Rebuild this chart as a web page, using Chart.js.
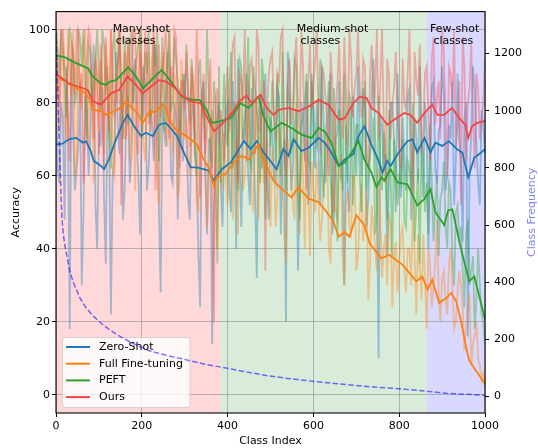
<!DOCTYPE html>
<html>
<head>
<meta charset="utf-8">
<script src="https://cdn.jsdelivr.net/npm/chart.js@4.4.1/dist/chart.umd.min.js"></script>
<style>
  body { margin: 0; background: #fff; }
</style>
</head>
<body>
<canvas id="accChart" width="538" height="448"></canvas>
<script>
// per-class accuracy: "A" arrays at classes 0,8,16..., "B" arrays at 4,12,20...
const RAW_STEP = 8;
const rawZeroShotA = [84,58,76,90,18,72,62,86,50,78,70,96,40,
  68,54,80,22,64,74,88,56,82,66,92,60,78,
  86,62,74,96,50,80,68,90,58,76,84,64,
  72,48,80,62,24,86,44,70,52,76,58,
  66,80,50,74,92,46,70,60,84,54,76,62,88,48,
  72,58,82,66,20,90,62,78,56,74,86,60,70,
  80,52,74,64,88,48,72,60,30,56,76,68,
  90,60,78,54,82,70,10,74,66,58,80,50,68,
  76,56,84,62,70,90,54,72,64,86,58,74,
  82,60,70,52,88,64,76,16,72,84,58,78,66];
const rawZeroShotB = [62,80,48,74,92,56,68,30,82,60,88,52,72,
  84,36,70,60,94,66,48,78,58,86,70,44,90,
  56,78,64,84,28,72,94,60,80,48,70,88,
  54,76,66,38,82,60,70,14,64,80,46,
  78,56,86,40,64,72,88,52,70,32,82,66,58,76,
  60,84,44,70,94,56,74,34,80,64,52,88,62,
  66,90,58,78,44,70,86,62,74,50,82,60,
  72,84,46,68,92,56,76,62,38,80,70,88,54,
  64,82,48,76,58,68,80,40,84,62,72,90,
  56,74,86,64,70,42,80,60,90,68,52,74];
const rawFullFTA = [100,80,94,70,88,100,64,86,96,72,90,58,84,
  92,66,84,100,60,80,90,70,96,74,56,88,82,
  64,94,76,86,52,90,72,100,66,80,58,84,
  76,60,88,54,70,82,46,66,74,40,62,
  72,52,80,64,44,76,60,86,56,70,48,78,62,54,
  68,46,74,58,36,66,52,80,44,60,70,38,56,
  64,42,58,72,36,54,48,66,30,56,44,60,
  38,58,46,26,52,40,62,32,44,50,24,42,36,
  46,28,40,54,22,34,44,18,36,30,48,20,
  34,22,40,18,28,30,12,24,8,16,10,4,2];
const rawFullFTB = [86,96,74,100,82,60,92,78,100,68,84,94,72,
  80,96,70,62,88,100,74,84,64,90,78,100,68,
  86,72,98,60,80,94,68,78,88,54,92,70,
  66,84,72,50,80,64,58,78,52,68,56,
  60,76,48,70,84,56,66,74,50,82,64,58,70,46,
  62,54,66,44,70,60,48,58,72,40,56,64,50,
  54,48,66,40,58,50,62,38,52,46,60,34,
  50,42,56,36,46,34,48,40,30,46,38,28,44,
  34,40,30,38,44,26,32,40,24,36,28,32,
  26,36,30,20,34,24,18,28,14,20,8,6];
const rawPEFTA = [100,88,96,76,100,92,82,98,100,70,94,86,100,
  78,96,90,62,100,92,84,98,74,100,88,96,70,
  94,100,78,90,64,98,86,100,80,92,68,88,
  96,74,84,60,92,80,100,66,86,36,58,
  88,68,94,80,56,90,76,98,62,84,72,92,48,80,
  86,64,78,94,56,82,70,90,48,76,88,62,80,
  68,92,54,76,60,84,42,72,88,58,80,66,
  74,50,86,62,70,44,82,56,66,78,38,64,60,
  70,46,62,80,52,36,66,58,74,42,60,54,
  64,40,56,30,52,46,24,48,34,18,40,22,14];
const rawPEFTB = [94,100,86,92,98,80,100,90,84,96,78,92,88,
  100,82,74,94,86,100,70,90,96,80,92,100,84,
  88,76,96,100,84,72,92,78,98,86,74,80,
  82,92,66,88,76,70,84,62,80,90,74,
  72,84,62,76,92,70,82,64,90,78,58,86,74,68,
  76,88,60,72,84,66,92,58,74,80,64,86,70,
  78,62,72,86,48,66,78,56,70,82,52,74,
  60,78,56,66,76,50,62,72,48,60,70,52,58,
  48,64,56,42,62,70,50,44,58,52,38,56,
  46,58,38,50,42,34,44,30,38,26,30,20];
const rawOursA = [96,72,100,88,64,94,100,80,58,92,98,70,88,
  96,62,84,100,76,90,52,94,98,78,100,66,90,
  100,74,92,56,96,88,100,70,84,98,62,86,
  94,68,80,100,54,88,72,92,20,84,78,
  64,90,82,98,58,86,100,74,92,66,96,80,34,88,
  94,70,86,100,60,92,78,98,72,90,56,96,84,
  100,66,88,74,94,50,86,78,98,68,92,84,
  100,76,90,62,96,84,70,100,58,88,80,94,66,
  92,78,100,54,86,96,72,90,64,98,82,70,
  94,60,88,100,74,52,90,80,96,62,84,76,92];
const rawOursB = [84,100,90,76,96,82,100,88,74,100,84,92,66,
  86,98,72,90,84,100,80,70,92,100,86,94,76,
  90,82,100,88,76,94,80,90,100,72,86,78,
  84,90,70,86,78,66,82,60,80,68,74,
  82,72,96,70,88,80,64,90,84,100,72,86,78,92,
  76,88,98,68,84,74,90,80,100,66,86,78,92,
  74,90,82,60,86,78,96,70,84,100,76,88,
  84,92,66,88,78,100,86,74,92,70,84,78,62,
  80,88,70,94,82,66,88,78,92,74,86,100,
  76,90,80,68,86,98,64,84,76,88,70,80];

// smoothed curves: class index -> accuracy
const zsX = [0,15,30,47,63,70,81,88,105,112,123,140,156,167,182,198,209,226,240,256,267,282,298,314,328,344,356,368,386,407,419,438,454,468,484,503,514,530,542,554,572,589,612,626,642,659,673,693,705,719,735,752,761,772,780,796,819,831,842,859,873,884,900,916,935,947,961,975,986,1000];
const zsY = [68.6,68.8,70,70.4,69.1,69.5,66.8,64.1,62.7,61.8,64.5,70,74.5,76.7,73.6,70.9,71.8,70.9,74,74.5,73.1,70.9,66.4,62.3,62.3,61.8,61.4,58.7,61.8,63.6,65.9,69.5,67.3,69.5,66.4,63.6,61.8,67.3,65.5,70,66.8,67.7,70.4,69.1,66.4,62.7,64.5,65.9,70.9,73.6,68.6,64.1,60.9,64.1,62.7,65.9,69.5,70,66.4,70.4,66.4,69.1,68.2,69.5,67.3,66.4,59.6,65,65.9,67.3];
const ftX = [0,10,23,47,63,77,86,105,116,135,151,163,174,190,202,216,233,249,256,263,279,298,314,328,344,356,368,375,395,414,433,449,472,484,496,507,526,549,565,589,612,631,647,659,673,684,700,719,731,758,777,808,840,854,866,877,893,910,921,933,944,956,963,979,1000];
const ftY = [88.2,86.5,85.8,84,83.1,81.3,78.1,77.7,76.7,77.7,78.6,80.4,79,77.2,74.5,77.2,77.7,79.5,78.6,75.4,72.7,71.3,70,68.6,64.5,62.3,57.3,59.6,60.5,63.6,65.5,64.5,68.6,64.1,61.4,58.7,56.4,54.1,56.9,53.7,52.8,50.1,47.4,43.3,44.6,43.3,49.2,46.5,41.5,37.4,38.3,35.6,31.1,32.4,28.8,31.5,25.2,26.5,27.9,25.6,20.2,13,9.4,6.6,3];
const peftX = [0,20,48,75,83,102,116,126,140,168,185,203,226,246,265,293,319,335,351,363,384,407,430,449,472,484,500,526,549,572,596,612,626,642,659,673,689,705,719,735,747,759,765,780,796,819,842,859,873,884,905,914,924,942,963,975,982,1000];
const peftY = [93,92.5,90.8,89.4,87.6,85.5,84.9,85.8,86.2,89.7,87.5,84,86.7,89,86.3,81.7,80.8,80.8,78.1,74.5,75,75.8,79.9,78.6,81.7,76.3,72.2,74.5,73.1,71.3,70.4,73.1,72.2,69.1,62.7,63.6,66.4,69.5,64.5,60.9,56.9,59.6,58.7,61.8,58.2,57.7,51.9,53.7,56.4,50.1,46.5,50.5,50.8,41,31.1,32.4,29.2,20.7];
const oursX = [0,30,63,74,86,105,128,147,167,186,202,226,240,256,275,291,314,337,351,368,386,414,428,444,456,477,491,507,519,542,565,589,612,635,659,673,693,708,724,735,752,772,789,812,826,842,859,877,889,905,923,940,954,961,970,982,1000];
const oursY = [88,85.3,84,83.5,80.4,79.5,82.6,83.5,87.2,84.9,82.6,84.9,86.2,85.8,84.4,82.2,80.4,79.9,76.3,72.2,74,77.7,80.5,82,79.9,82.2,78.6,76.7,78.1,78.6,77.7,79,80.8,79.5,75.4,75.8,79.9,81.7,81.3,78.6,77.2,74,75.4,77.2,76.7,74.5,77.2,79.5,76.7,76.7,78.6,75.8,74,70.4,73.6,74.5,75];

// class frequency (right axis)
const freqX = [0,1,2,4,6,8,10,12,14,17,20,25,32,40,56,70,87,110,141,180,219,260,296,340,386,440,490,540,598,650,700,750,800,864,910,950,1000];
const freqY = [1280,1230,1170,1080,960,870,780,690,620,570,535,495,440,400,344,310,281,250,217,185,159,143,131,115,102,87,73,63,53,45,38,32,27,18,11,8,4];

const methodNames = ['Zero-Shot', 'Full Fine-tuning', 'PEFT', 'Ours'];
const xTicks = [0, 200, 400, 600, 800, 1000];
const accTicks = [0, 20, 40, 60, 80, 100];
const freqTicks = [0, 200, 400, 600, 800, 1000, 1200];
const regionStart = [0, 384, 864];
const regionEnd = [384, 864, 1000];
const regionNames = ['Many-shot', 'Medium-shot', 'Few-shot'];

const COLORS = ['#1f77b4', '#ff7f0e', '#2ca02c', '#f44545'];
const RAW_COLORS = ['rgba(31,119,180,0.4)', 'rgba(255,127,14,0.4)', 'rgba(44,160,44,0.4)', 'rgba(244,69,69,0.4)'];
const BAND_COLORS = ['rgba(255,0,0,0.15)', 'rgba(0,128,0,0.15)', 'rgba(0,0,255,0.15)'];
const FONT = { family: 'DejaVu Sans', size: 11 };
const GRID = 'rgba(110,110,110,0.45)';

const pts = (xs, ys) => ys.map((y, i) => ({ x: xs[i], y: y }));
const rawPts = (a, b) => {
  const out = [];
  a.forEach((y, i) => {
    out.push({ x: i * RAW_STEP, y: y });
    if (b[i] !== undefined) out.push({ x: i * RAW_STEP + RAW_STEP / 2, y: b[i] });
  });
  return out;
};

// shaded class groups, under everything
const bandsPlugin = {
  id: 'bands',
  beforeDraw(chart) {
    const { ctx, chartArea: a, scales: { x } } = chart;
    ctx.save();
    regionStart.forEach((s, i) => {
      const x0 = x.getPixelForValue(s), x1 = x.getPixelForValue(regionEnd[i]);
      ctx.fillStyle = BAND_COLORS[i];
      ctx.fillRect(x0, a.top, x1 - x0, a.bottom - a.top);
    });
    ctx.restore();
  }
};

// group labels, legend and frame
const labelX = [[132, 139], [561, 570], [872, 880]];
const labelY = [99.3, 96.1];
const extrasPlugin = {
  id: 'extras',
  beforeDatasetDraw(chart, args) {
    if (args.index !== 0) return;
    // legend sits under the twin-axis frequency line
    const { ctx, chartArea: a } = chart;
    const left = a.left + 6.5, top = a.bottom - 75.5, w = 127.5, h = 70;
    ctx.save();
    ctx.beginPath();
    ctx.roundRect(left, top, w, h, 3);
    ctx.fillStyle = 'rgba(255,255,255,0.8)';
    ctx.fill();
    ctx.strokeStyle = 'rgba(204,204,204,0.8)';
    ctx.lineWidth = 1;
    ctx.stroke();
    ctx.font = '11px "DejaVu Sans"';
    ctx.textBaseline = 'middle';
    methodNames.forEach((name, i) => {
      const y = top + 9.5 + i * 16.7;
      ctx.strokeStyle = COLORS[i];
      ctx.lineWidth = 2;
      ctx.beginPath();
      ctx.moveTo(left + 3.5, y);
      ctx.lineTo(left + 27.5, y);
      ctx.stroke();
      ctx.fillStyle = '#000';
      ctx.fillText(name, left + 36.5, y);
    });
    ctx.restore();
  },
  afterDatasetsDraw(chart) {
    const { ctx, scales: { x, y } } = chart;
    ctx.save();
    ctx.font = '11px "DejaVu Sans"';
    ctx.fillStyle = '#000';
    ctx.textAlign = 'left';
    ctx.textBaseline = 'alphabetic';
    regionNames.forEach((n, i) => {
      ctx.fillText(n, x.getPixelForValue(labelX[i][0]), y.getPixelForValue(labelY[0]));
      ctx.fillText('classes', x.getPixelForValue(labelX[i][1]), y.getPixelForValue(labelY[1]));
    });
    ctx.restore();
  },
  afterDraw(chart) {
    const { ctx, chartArea: a } = chart;
    ctx.save();
    ctx.strokeStyle = '#000';
    ctx.lineWidth = 1.1;
    ctx.strokeRect(a.left, a.top, a.right - a.left, a.bottom - a.top);
    // right axis title reads bottom-to-top like matplotlib
    ctx.translate(532.5, (a.top + a.bottom) / 2);
    ctx.rotate(-Math.PI / 2);
    ctx.font = '11px "DejaVu Sans"';
    ctx.fillStyle = '#8080ff';
    ctx.textAlign = 'center';
    ctx.textBaseline = 'middle';
    ctx.fillText('Class Frequency', 0, 0);
    ctx.restore();
  }
};

const smooth = [[zsX, zsY], [ftX, ftY], [peftX, peftY], [oursX, oursY]];
const raws = [[rawZeroShotA, rawZeroShotB], [rawFullFTA, rawFullFTB], [rawPEFTA, rawPEFTB], [rawOursA, rawOursB]];

const datasets = [{
  label: 'freq', data: pts(freqX, freqY), yAxisID: 'yF',
  borderColor: 'rgba(0,0,255,0.55)', borderDash: [5.5, 2.4], borderWidth: 1.5
}];
// first dataset is drawn last, so put Ours first
for (let i = 3; i >= 0; i--) {
  datasets.push({ label: methodNames[i], data: pts(smooth[i][0], smooth[i][1]), yAxisID: 'y', borderColor: COLORS[i], borderWidth: 1.8 });
}
for (let i = 3; i >= 0; i--) {
  datasets.push({ label: methodNames[i] + ' raw', data: rawPts(raws[i][0], raws[i][1]), yAxisID: 'y', borderColor: RAW_COLORS[i], borderWidth: 1.8 });
}

new Chart(document.getElementById('accChart'), {
  type: 'line',
  data: { datasets: datasets },
  options: {
    responsive: false,
    animation: false,
    devicePixelRatio: 1,
    layout: { padding: { top: 7, left: 0, right: 0, bottom: 0 } },
    elements: { point: { radius: 0 }, line: { tension: 0 } },
    plugins: { legend: { display: false }, tooltip: { enabled: false } },
    scales: {
      x: {
        type: 'linear', min: 0, max: 1000,
        afterBuildTicks: s => { s.ticks = xTicks.map(v => ({ value: v })); },
        afterFit: s => { s.height = 35; },
        border: { display: false },
        grid: { color: GRID, lineWidth: 1, tickColor: '#000', tickLength: 4 },
        ticks: { color: '#000', font: FONT, padding: 3, maxRotation: 0, callback: v => String(v) },
        title: { display: true, text: 'Class Index', color: '#000', font: FONT, padding: { top: 0, bottom: 0.5 } }
      },
      y: {
        position: 'left', min: -5, max: 105,
        afterBuildTicks: s => { s.ticks = accTicks.map(v => ({ value: v })); },
        afterFit: s => { s.width = 56; },
        border: { display: false },
        grid: { color: GRID, lineWidth: 1, tickColor: '#000', tickLength: 4 },
        ticks: { color: '#000', font: FONT, padding: 2, callback: v => String(v) },
        title: { display: true, text: 'Accuracy', color: '#000', font: FONT, padding: { top: 9.2, bottom: 0 } }
      },
      yF: {
        position: 'right', min: -58, max: 1347,
        afterBuildTicks: s => { s.ticks = freqTicks.map(v => ({ value: v })); },
        afterFit: s => { s.width = 53; },
        border: { display: false },
        grid: { drawOnChartArea: false, tickColor: '#000', tickLength: 4 },
        ticks: { color: '#000', font: FONT, padding: 5, callback: v => String(v) }
      }
    }
  },
  plugins: [bandsPlugin, extrasPlugin]
});
</script>
</body>
</html>
